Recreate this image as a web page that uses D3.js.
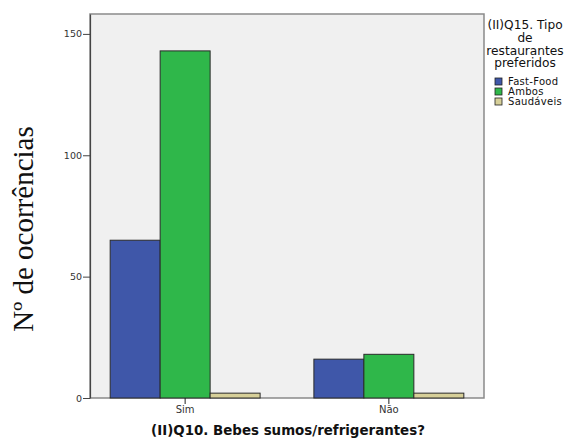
<!DOCTYPE html>
<html><head><meta charset="utf-8">
<script src="https://cdn.jsdelivr.net/npm/d3@7"></script>
<style>body{margin:0;background:#fff}svg{display:block}</style>
</head><body>
<svg id="c" width="568" height="439"></svg>
<script>
const categories = ["Sim", "Não"];
const seriesNames = ["Fast-Food", "Ambos", "Saudáveis"];
const fastFood = [65, 16];
const ambos = [143, 18];
const saudaveis = [2, 2];
const yTicks = [0, 50, 100, 150];
const colors = ["#3f57a9", "#2fb74a", "#d6cf98"];
const legendTitle = ["(II)Q15. Tipo", "de", "restaurantes", "preferidos"];
const xTitle = "(II)Q10. Bebes sumos/refrigerantes?";
const yTitle = "Nº de ocorrências";

const seriesValues = [fastFood, ambos, saudaveis];
const svg = d3.select("#c");
const L = 90, T = 14, R = 484, B = 398;

const y = d3.scaleLinear().domain([0, 158.2]).range([B, T]);
const x0 = d3.scaleBand().domain(categories).range([L, R]).paddingInner(0.264).paddingOuter(0.099);
const x1 = d3.scaleBand().domain(seriesNames).range([0, x0.bandwidth()]);

svg.append("rect").attr("x", L).attr("y", T).attr("width", R - L).attr("height", B - T)
  .attr("fill", "#f0f0f0").attr("stroke", "#8a8a8a").attr("stroke-width", 1.5);

const rows = [];
categories.forEach((c, i) => seriesNames.forEach((s, j) => rows.push({c, s, j, v: seriesValues[j][i]})));
svg.append("g").selectAll("rect").data(rows).join("rect")
  .attr("x", d => x0(d.c) + x1(d.s))
  .attr("y", d => y(d.v))
  .attr("width", x1.bandwidth())
  .attr("height", d => B - y(d.v))
  .attr("fill", d => colors[d.j])
  .attr("stroke", "#2a2a2a").attr("stroke-width", 1);

const ya = svg.append("g").attr("transform", `translate(${L},0)`)
  .call(d3.axisLeft(y).tickValues(yTicks).tickSize(7).tickSizeOuter(0));
ya.select(".domain").attr("stroke", "#444").attr("stroke-width", 1.2);
ya.selectAll(".tick line").attr("stroke", "#444");
ya.selectAll("text").attr("font-family", "DejaVu Sans").attr("font-size", 9.5).attr("fill", "#333").attr("x", -8);

const xa = svg.append("g").attr("transform", `translate(0,${B})`)
  .call(d3.axisBottom(x0).tickSize(6).tickSizeOuter(0));
xa.select(".domain").remove();
xa.selectAll(".tick line").attr("stroke", "#222");
xa.selectAll("text").attr("font-family", "DejaVu Sans").attr("font-size", 10).attr("fill", "#333").attr("y", 8);

svg.append("text").attr("x", 288).attr("y", 435).attr("text-anchor", "middle")
  .attr("font-family", "DejaVu Sans").attr("font-weight", "bold").attr("font-size", 13.4).attr("fill", "#111")
  .text(xTitle);

svg.append("text").attr("transform", "translate(33,229) rotate(-90)").attr("text-anchor", "middle")
  .attr("font-family", "Liberation Serif").attr("font-size", 29).attr("fill", "#111")
  .text(yTitle);

const lg = svg.append("g");
lg.selectAll("text.t").data(legendTitle).join("text").attr("class", "t")
  .attr("x", 525).attr("y", (d, i) => 29 + i * 12.8).attr("text-anchor", "middle")
  .attr("font-family", "DejaVu Sans").attr("font-size", 12.2).attr("fill", "#111").text(d => d);
const items = lg.selectAll("g.it").data(seriesNames).join("g").attr("class", "it")
  .attr("transform", (d, i) => `translate(495,${78 + i * 10})`);
items.append("rect").attr("width", 7).attr("height", 7).attr("fill", (d, i) => colors[i])
  .attr("stroke", "#222").attr("stroke-width", 0.8);
items.append("text").attr("x", 13).attr("y", 7.3).attr("font-family", "DejaVu Sans").attr("font-size", 10)
  .attr("letter-spacing", 0.3).attr("fill", "#111").text(d => d);
</script>
</body></html>
